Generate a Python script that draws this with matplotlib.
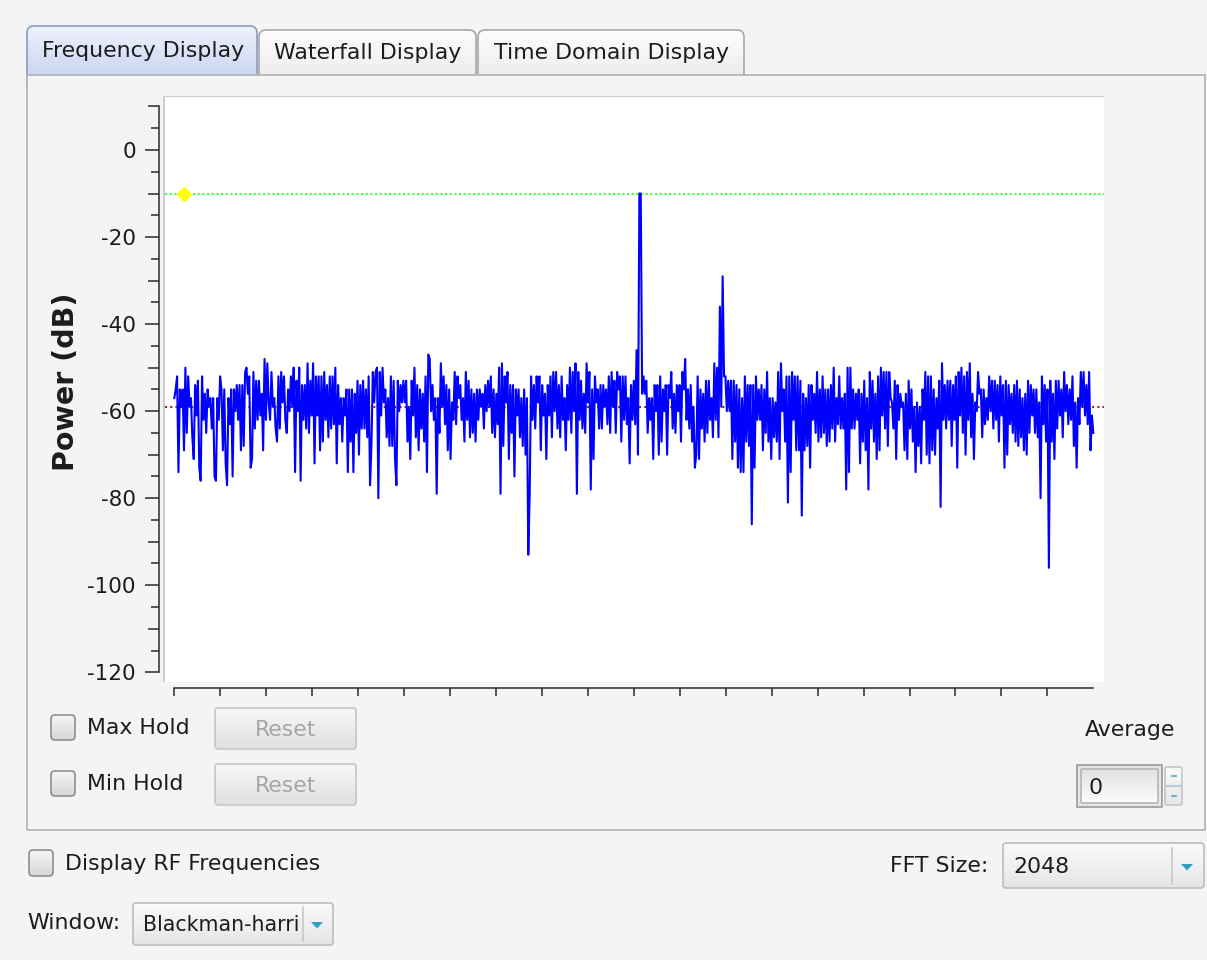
import numpy as np
import matplotlib
matplotlib.use('Agg')
import matplotlib.pyplot as plt
from matplotlib.patches import FancyBboxPatch, Rectangle, Polygon
from matplotlib.colors import LinearSegmentedColormap

plt.rcParams['font.family'] = 'DejaVu Sans'
plt.rcParams['axes.unicode_minus'] = False

# spectrum power in dB, left to right across the band (four chunks)
psd_a = [
    -57, -55, -52, -74, -55, -59, -55, -69, -50, -65,
    -52, -59, -57, -66, -71, -54, -61, -53, -73, -76,
    -52, -62, -56, -65, -55, -59, -57, -64, -57, -75,
    -76, -57, -62, -52, -55, -69, -55, -72, -77, -57,
    -63, -55, -75, -55, -60, -54, -62, -54, -69, -54,
    -68, -51, -50, -56, -52, -73, -71, -51, -64, -53,
    -62, -53, -61, -56, -69, -48, -62, -49, -58, -62,
    -51, -59, -57, -64, -67, -52, -64, -51, -58, -52,
    -62, -65, -55, -60, -52, -59, -50, -74, -53, -60,
    -50, -76, -54, -62, -54, -64, -49, -65, -53, -61,
    -49, -72, -52, -61, -52, -69, -52, -67, -51, -62,
    -54, -66, -52, -64, -52, -63, -50, -72, -54, -63,
    -57, -67, -57, -61, -55, -74, -55, -67, -55, -74,
    -56, -65, -53, -70, -54, -64, -53, -64, -55, -66,
    -52, -77, -68, -51, -58, -51, -50, -80, -51, -61,
    -50, -58, -55, -66, -57, -68,
]
psd_b = [
    -52, -68, -53, -71, -77, -53, -60, -54, -58, -53,
    -58, -53, -67, -59, -71, -53, -61, -50, -66, -54,
    -69, -55, -64, -56, -67, -52, -74, -47, -48, -60,
    -54, -62, -57, -79, -57, -65, -49, -59, -52, -63,
    -54, -69, -55, -71, -58, -62, -51, -63, -52, -57,
    -54, -62, -57, -67, -51, -62, -53, -66, -55, -65,
    -56, -67, -55, -62, -55, -59, -56, -64, -54, -60,
    -53, -59, -52, -65, -55, -66, -56, -63, -50, -79,
    -49, -68, -52, -58, -51, -71, -54, -65, -54, -75,
    -55, -61, -55, -66, -57, -68, -55, -70, -57, -93,
    -79, -52, -62, -54, -64, -52, -58, -52, -69, -54,
    -61, -56, -71, -54, -61, -52, -66, -51, -60, -51,
    -64, -54, -66, -52, -62, -57, -69, -54, -62, -50,
    -65, -51, -60, -49, -79, -51, -62, -53, -64, -56,
    -65, -49, -58, -51, -78, -55, -71, -52, -58, -55,
    -64, -54, -64, -54, -59, -55, -63, -52, -65, -51,
    -59, -53, -65, -51, -55, -52, -67, -52, -62,
]
psd_c = [
    -52, -63, -57, -72, -54, -62, -53, -63, -46, -70,
    -10, -10, -56, -52, -56, -53, -65, -57, -62, -57,
    -71, -54, -60, -54, -70, -52, -67, -55, -60, -54,
    -70, -54, -57, -51, -64, -56, -65, -54, -60, -54,
    -67, -51, -55, -48, -62, -55, -64, -54, -67, -59,
    -73, -70, -52, -71, -55, -64, -56, -67, -53, -65,
    -53, -62, -57, -66, -49, -62, -50, -66, -36, -59,
    -29, -52, -52, -60, -53, -60, -53, -71, -53, -67,
    -54, -73, -55, -74, -57, -74, -52, -67, -54, -68,
    -54, -86, -54, -73, -52, -62, -55, -62, -54, -69,
    -55, -65, -51, -67, -57, -71, -57, -66, -58, -67,
    -51, -71, -49, -60, -55, -67, -52, -81, -52, -74,
    -51, -62, -52, -69, -52, -69, -53, -84, -56, -69,
    -57, -68, -54, -73, -54, -62, -56, -65, -51, -67,
    -55, -66, -52, -65, -55, -68, -55, -67, -54, -64,
    -50, -67, -57, -63, -52, -64, -57, -64, -56, -78,
    -50, -74, -50, -64, -55, -64, -56, -62,
]
psd_d = [
    -55, -72, -56, -67, -53, -69, -57, -78, -51, -64,
    -53, -67, -56, -71, -52, -69, -50, -61, -51, -64,
    -51, -68, -51, -57, -58, -64, -53, -71, -54, -62,
    -56, -59, -58, -69, -56, -71, -53, -64, -55, -67,
    -59, -74, -58, -68, -59, -72, -55, -62, -51, -70,
    -52, -72, -52, -69, -55, -70, -57, -64, -53, -82,
    -49, -62, -54, -64, -53, -62, -53, -68, -54, -62,
    -52, -73, -51, -61, -50, -65, -52, -70, -51, -62,
    -49, -66, -56, -71, -58, -60, -51, -56, -55, -66,
    -55, -63, -57, -62, -52, -60, -53, -64, -53, -62,
    -54, -67, -52, -61, -54, -73, -53, -70, -54, -63,
    -56, -65, -54, -67, -53, -68, -55, -66, -57, -69,
    -56, -70, -53, -65, -54, -61, -55, -65, -55, -66,
    -58, -80, -52, -63, -54, -67, -55, -96, -53, -67,
    -56, -71, -53, -64, -53, -61, -55, -66, -51, -60,
    -54, -63, -55, -62, -52, -68, -58, -73, -57, -63,
    -51, -59, -51, -61, -54, -63, -51, -69, -61, -65,
]

floor_db = -59.0          # lower marker
marker_freq = -0.4894     # where the max-hold diamond sits
y_ticks = list(range(-120, 11, 10))
tab_names = ['Frequency Display', 'Waterfall Display', 'Time Domain Display']
fft_size = '2048'
window_name = 'Blackman-harri'
avg_count = '0'

power = np.array(psd_a + psd_b + psd_c + psd_d, dtype=float)
freq = np.linspace(-0.5, 0.5, len(power))
peak_db = power.max()

W, H = 1207, 960
BG = '#f4f4f4'
TXT = '#1c1c1c'
FS = 15.8

fig = plt.figure(figsize=(W / 100, H / 100), dpi=100)
fig.patch.set_facecolor(BG)

# widget layer, in pixel coordinates (y down)
ui = fig.add_axes([0, 0, 1, 1])
ui.set_xlim(0, W)
ui.set_ylim(H, 0)
ui.set_autoscale_on(False)
ui.axis('off')


def box(x0, y0, x1, y1, top, bottom, edge, r=3, lw=1.2, z=1):
    p = FancyBboxPatch((x0, y0), x1 - x0, y1 - y0,
                       boxstyle='round,pad=0,rounding_size=%g' % r,
                       fc='none', ec=edge, lw=lw, zorder=z + 0.1)
    ui.add_patch(p)
    cm = LinearSegmentedColormap.from_list('g', [top, bottom])
    grad = np.linspace(0, 1, 64)[:, None]
    im = ui.imshow(grad, cmap=cm, aspect='auto', vmin=0, vmax=1,
                   extent=(x0, x1, y1, y0), zorder=z, interpolation='bilinear')
    im.set_clip_path(p)
    return p


def label(x, y, s, ha='left', size=FS, color=TXT, **kw):
    ui.text(x, y, s, ha=ha, va='center', fontsize=size, color=color, **kw)


def arrow(cx, cy):
    ui.add_patch(Polygon([(cx - 6, cy - 3), (cx + 6, cy - 3), (cx, cy + 3.5)],
                         closed=True, fc='#2e9fbf', ec='none', zorder=5))


# tabs
box(27, 26, 257, 95, '#eef2fb', '#bccbee', '#8c9bc0', r=7)
box(259, 30, 476, 95, '#fdfdfd', '#e6e6e6', '#a8a8a8', r=7)
box(478, 30, 744, 95, '#fdfdfd', '#e6e6e6', '#a8a8a8', r=7)
ui.add_patch(Rectangle((27, 75), 1178, 755, fc=BG, ec='#b5b5b5', lw=1.3, zorder=2))
label(143, 51, tab_names[0], ha='center', zorder=3)
label(368, 53, tab_names[1], ha='center', zorder=3)
label(611, 53, tab_names[2], ha='center', zorder=3)

# sunken frame round the plot canvas
ui.add_patch(Rectangle((162.5, 95.5), 3, 586.5, fc='#cdcdcd', ec='none', zorder=3))
ui.add_patch(Rectangle((162.5, 95.5), 941.5, 3, fc='#cdcdcd', ec='none', zorder=3))

# hold controls
for y, txt in [(715, 'Max Hold'), (771, 'Min Hold')]:
    box(51, y, 75, y + 25, '#f6f6f6', '#d6d6d6', '#8e8e8e', r=4, z=3)
    label(87, y + 13, txt, zorder=4)
    box(215, y - 7, 356, y + 34, '#f7f7f7', '#e1e1e1', '#c6c6c6', r=3, z=3)
    label(285.5, y + 15, 'Reset', ha='center', color='#a6a6a6', zorder=4)

# averaging spin box
label(1130, 730, 'Average', ha='center', zorder=4)
ui.add_patch(Rectangle((1077, 765), 85, 42, fc='#e6e6e6', ec='#9a9a9a', lw=1.2, zorder=3))
box(1081, 769, 1158, 803, '#e2e2e2', '#fbfbfb', '#b5b5b5', r=1, z=3.5)
label(1088, 788, avg_count, zorder=4)
box(1165, 767, 1182, 805, '#fafafa', '#e6e6e6', '#c4c4c4', r=2, z=3)
ui.plot([1166, 1181], [786, 786], color='#b8c8e0', lw=1.5, zorder=4)
ui.plot([1171.5, 1175.5], [776, 776], color='#4aa8c0', lw=1.2, zorder=4)
ui.plot([1171.5, 1175.5], [796, 796], color='#4aa8c0', lw=1.2, zorder=4)

# options below the tab panel
box(29, 850, 53, 876, '#f6f6f6', '#d6d6d6', '#8e8e8e', r=4, z=3)
label(65, 864, 'Display RF Frequencies', zorder=4)

label(988, 866, 'FFT Size:', ha='right', zorder=4)
box(1003, 843, 1204, 888, '#fbfbfb', '#e5e5e5', '#bdbdbd', r=3, z=3)
label(1013, 867, fft_size, zorder=4)
ui.plot([1171.5, 1171.5], [848, 884], color='#c8c8c8', lw=1.2, zorder=4)
arrow(1187, 867)

label(27, 923, 'Window:', zorder=4)
box(133, 903, 333, 945, '#fbfbfb', '#e5e5e5', '#bdbdbd', r=3, z=3)
label(143, 925, window_name, size=14.8, zorder=4)
ui.plot([302.5, 302.5], [907, 941], color='#c8c8c8', lw=1.2, zorder=4)
arrow(317, 925)

# spectrum plot
ax = fig.add_axes([165 / W, 1 - 682 / H, (1104 - 165) / W, (682 - 97) / H])
ax.set_facecolor('white')
ax.plot(freq, power, color='#0000ff', lw=1.5, zorder=3)
ax.axhline(peak_db, color='#4cff4c', lw=1.6, ls=(0, (1, 1.1)), zorder=2)
ax.axhline(floor_db, color='#a02222', lw=1.5, ls=(0, (1, 1.5)), zorder=2)
ax.plot([marker_freq], [peak_db], marker=(4, 0, 0), ms=10, color='#ffff00',
        mec='#ffff00', ls='none', zorder=4)
ax.set_xlim(-0.51012, 0.51164)
ax.set_ylim(-122.23, 12.18)

for s in ('top', 'right'):
    ax.spines[s].set_visible(False)
for s in ('left', 'bottom'):
    ax.spines[s].set_color('#2a2a2a')
    ax.spines[s].set_linewidth(1.1)
ax.spines['left'].set_position(('outward', 4.1))
ax.spines['bottom'].set_position(('outward', 4.6))
ax.spines['left'].set_bounds(-120, 10)
ax.spines['bottom'].set_bounds(-0.5, 0.5)

ax.set_yticks(y_ticks, labels=[str(v) if v % 20 == 0 else '' for v in y_ticks])
ax.set_yticks(np.arange(-115, 10, 10), minor=True)
ax.set_xticks(-0.5 + 0.05 * np.arange(20), labels=[])
ax.tick_params(axis='y', which='major', length=7.9, width=1.1, pad=8.9,
               labelsize=15.5, color='#2a2a2a', labelcolor=TXT)
ax.tick_params(axis='y', which='minor', length=5.6, width=1.1, color='#2a2a2a')
ax.tick_params(axis='x', which='major', length=5.8, width=1.1, color='#2a2a2a')
# the labelled 20 dB ticks are drawn longer
for v, t in zip(y_ticks, ax.yaxis.get_major_ticks()):
    if v % 20 == 0:
        t.tick1line.set_markersize(10.4)

ax.set_ylabel('Power (dB)', fontsize=20.5, fontweight='bold', color=TXT)
ax.yaxis.set_label_coords(-0.0905, 0.513)

fig.savefig('out.png', dpi=100, facecolor=BG)
